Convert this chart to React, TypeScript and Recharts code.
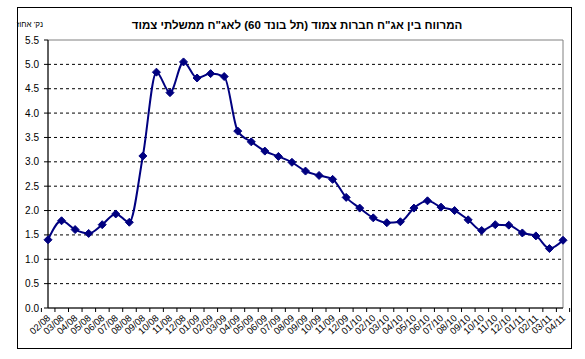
import React from "react";
import {
  LineChart,
  Line,
  XAxis,
  YAxis,
  ReferenceLine,
  ReferenceArea,
} from "recharts";

const months = [
  "02/08", "03/08", "04/08", "05/08", "06/08", "07/08", "08/08", "09/08", "10/08", "11/08", "12/08",
  "01/09", "02/09", "03/09", "04/09", "05/09", "06/09", "07/09", "08/09", "09/09", "10/09", "11/09", "12/09",
  "01/10", "02/10", "03/10", "04/10", "05/10", "06/10", "07/10", "08/10", "09/10", "10/10", "11/10", "12/10",
  "01/11", "02/11", "03/11", "04/11",
];

const spread = [
  1.40, 1.79, 1.61, 1.53, 1.71, 1.93, 1.76, 3.12, 4.84, 4.42, 5.05,
  4.72, 4.81, 4.75, 3.63, 3.41, 3.22, 3.11, 2.99, 2.81, 2.72, 2.64,
  2.27, 2.05, 1.85, 1.75, 1.77, 2.05, 2.20, 2.07, 2.00, 1.81, 1.59,
  1.71, 1.70, 1.54, 1.48, 1.22, 1.39,
];

const yTicks = [0, 0.5, 1, 1.5, 2, 2.5, 3, 3.5, 4, 4.5, 5, 5.5];
const gridVals = [0.5, 1, 1.5, 2, 2.5, 3, 3.5, 4, 4.5, 5];

const title = 'המרווח בין אג"ח חברות צמוד (תל בונד 60) לאג"ח ממשלתי צמוד';
const unitLabel = "נק' אחוז";

const data = months.map((m, i) => ({ month: m, value: spread[i] }));

const W = 585;
const H = 359;
const LEFT = 48;
const RIGHT = 22;
const TOP = 40;
const BOTTOM = 51;
const PLOT_W = W - LEFT - RIGHT;
const BAND = PLOT_W / months.length;
const COLOR = "#000080";
const FONT = "'Liberation Sans', Arial, sans-serif";

const Diamond = (props: any) => {
  const { cx, cy } = props;
  if (cx == null || cy == null) return null;
  const r = 4;
  return (
    <polygon
      points={`${cx},${cy - r} ${cx + r},${cy} ${cx},${cy + r} ${cx - r},${cy}`}
      fill={COLOR}
      stroke={COLOR}
      strokeWidth={1}
    />
  );
};

const XTick = (props: any) => {
  const { x, y, payload, index } = props;
  const half = BAND / 2;
  const tx = x + 3;
  const ty = y + 7;
  return (
    <g>
      <line x1={x - half} x2={x - half} y1={y - 4} y2={y} stroke="#000" />
      {index === months.length - 1 && (
        <line x1={x + half} x2={x + half} y1={y - 4} y2={y} stroke="#000" />
      )}
      <g transform={`translate(${tx},${ty}) rotate(-42)`}>
        <text
          x={0}
          y={0}
          textAnchor="end"
          fontSize={9.5}
          fontFamily={FONT}
          fill="#000"
        >
          {payload.value}
        </text>
      </g>
    </g>
  );
};

export default function App() {
  return (
    <div
      style={{
        position: "absolute",
        left: 0,
        top: 0,
        width: W,
        height: H,
        background: "#fff",
        fontFamily: FONT,
      }}
    >
      <div
        style={{
          position: "absolute",
          left: 17,
          top: 7,
          width: 555,
          height: 342,
          border: "1px solid #000",
          boxSizing: "border-box",
        }}
      />
      <div
        dir="rtl"
        style={{
          position: "absolute",
          left: 0,
          width: 594,
          top: 18,
          textAlign: "center",
          fontWeight: "bold",
          fontSize: 11.5,
          lineHeight: "14px",
          color: "#000",
        }}
      >
        {title}
      </div>
      <div
        dir="rtl"
        style={{
          position: "absolute",
          left: 10,
          width: 33,
          top: 19,
          textAlign: "right",
          fontSize: 8,
          lineHeight: "11px",
          color: "#000",
          whiteSpace: "nowrap",
        }}
      >
        {unitLabel}
      </div>
      <div style={{ position: "absolute", left: 0, top: 0 }}>
        <LineChart
          width={W}
          height={H}
          data={data}
          margin={{ top: TOP, right: RIGHT, bottom: BOTTOM - 40, left: 0 }}
        >
          <ReferenceArea
            y1={0}
            y2={5.5}
            fill="none"
            stroke="#808080"
            strokeWidth={1}
            ifOverflow="visible"
          />
          {gridVals.map((v) => (
            <ReferenceLine
              key={v}
              y={v}
              stroke="#000"
              strokeDasharray="3 3"
              strokeWidth={1}
            />
          ))}
          <XAxis
            dataKey="month"
            interval={0}
            height={40}
            tickLine={false}
            tickSize={4}
            tickMargin={0}
            axisLine={{ stroke: "#000" }}
            tick={<XTick />}
          />
          <YAxis
            width={LEFT}
            domain={[0, 5.5]}
            ticks={yTicks}
            interval={0}
            tickFormatter={(v: number) => v.toFixed(1)}
            tickSize={4}
            tickMargin={5}
            axisLine={{ stroke: "#000" }}
            tickLine={{ stroke: "#000" }}
            tick={{ fontSize: 10, fill: "#000", fontFamily: FONT }}
          />
          <Line
            type="monotone"
            dataKey="value"
            stroke={COLOR}
            strokeWidth={2}
            dot={<Diamond />}
            activeDot={false}
            isAnimationActive={false}
          />
        </LineChart>
      </div>
    </div>
  );
}
